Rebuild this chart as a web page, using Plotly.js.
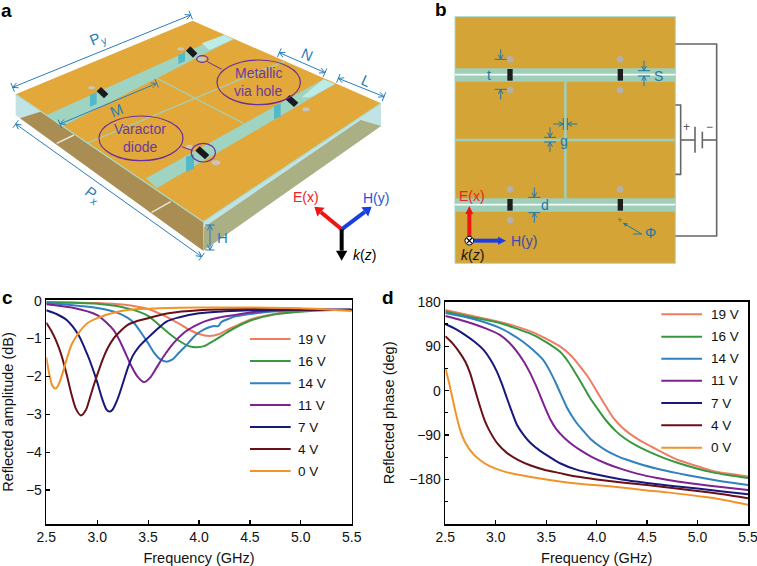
<!DOCTYPE html>
<html>
<head>
<meta charset="utf-8">
<script src="https://cdn.plot.ly/plotly-3.0.1.min.js"></script>
<style>html,body{margin:0;padding:0;background:#fff}#g{width:757px;height:566px}</style>
</head>
<body>
<div id="g"></div>
<script>
// ---- chart data ----
const names = ['19 V','16 V','14 V','11 V','7 V','4 V','0 V'];
const colors = ['#ee7d62','#36993f','#2f82bf','#7d2290','#17187c','#6a1018','#f2932a'];

const ampF19 = [2.5,3.0,3.25,3.5,3.7,3.8,3.9,4.0,4.1,4.2,4.3,4.4,4.5,4.75,5.0,5.25,5.5];
const ampV19 = [-0.03,-0.06,-0.1,-0.22,-0.45,-0.6,-0.76,-0.88,-0.93,-0.88,-0.74,-0.62,-0.5,-0.34,-0.27,-0.24,-0.24];
const ampF16 = [2.5,3.0,3.25,3.4,3.5,3.6,3.7,3.8,3.9,3.98,4.05,4.15,4.25,4.35,4.5,4.75,5.0,5.25,5.5];
const ampV16 = [-0.04,-0.08,-0.17,-0.28,-0.4,-0.62,-0.85,-1.05,-1.2,-1.23,-1.2,-1.05,-0.88,-0.72,-0.53,-0.36,-0.29,-0.25,-0.24];
const ampF14 = [2.5,3.0,3.2,3.3,3.36,3.42,3.5,3.56,3.62,3.68,3.74,3.8,3.85,3.9,3.95,4.01,4.08,4.15,4.19,4.22,4.28,4.35,4.5,4.75,5.0,5.5];
const ampV14 = [-0.06,-0.19,-0.32,-0.45,-0.58,-0.8,-1.12,-1.38,-1.55,-1.61,-1.55,-1.38,-1.25,-1.1,-0.95,-0.82,-0.72,-0.67,-0.67,-0.56,-0.49,-0.42,-0.35,-0.28,-0.25,-0.24];
const ampF11 = [2.5,2.75,3.0,3.1,3.16,3.22,3.28,3.34,3.4,3.46,3.52,3.58,3.65,3.75,3.85,3.95,4.05,4.2,4.34,4.5,4.75,5.0,5.5];
const ampV11 = [-0.09,-0.18,-0.38,-0.6,-0.77,-1.05,-1.4,-1.75,-2.02,-2.15,-2.03,-1.78,-1.48,-1.12,-0.85,-0.68,-0.55,-0.44,-0.38,-0.31,-0.26,-0.24,-0.24];
const ampF7 = [2.5,2.6,2.7,2.815,2.9,2.95,3.0,3.05,3.09,3.12,3.15,3.2,3.25,3.3,3.35,3.4,3.49,3.68,3.8,4.0,4.25,4.5,5.0,5.5];
const ampV7 = [-0.25,-0.35,-0.51,-0.9,-1.4,-1.75,-2.15,-2.6,-2.87,-2.93,-2.88,-2.6,-2.2,-1.78,-1.45,-1.25,-1.0,-0.55,-0.44,-0.33,-0.28,-0.25,-0.24,-0.24];
const ampF4 = [2.5,2.55,2.6,2.65,2.7,2.75,2.79,2.84,2.89,2.93,2.97,3.0,3.05,3.1,3.16,3.2,3.3,3.4,3.5,3.7,4.0,4.5,5.0,5.5];
const ampV4 = [-0.58,-0.8,-1.08,-1.45,-1.95,-2.5,-2.85,-3.03,-2.88,-2.55,-2.2,-1.96,-1.58,-1.27,-1.0,-0.88,-0.64,-0.53,-0.46,-0.33,-0.25,-0.22,-0.23,-0.25];
const ampF0 = [2.5,2.53,2.56,2.59,2.62,2.65,2.7,2.75,2.815,2.9,3.0,3.2,3.4,3.6,4.0,4.5,5.0,5.5];
const ampV0 = [-1.5,-1.95,-2.25,-2.32,-2.22,-2.0,-1.55,-1.15,-0.86,-0.6,-0.46,-0.29,-0.22,-0.2,-0.18,-0.18,-0.2,-0.27];

const phF19 = [2.5,2.75,3.04,3.2,3.37,3.5,3.64,3.75,3.835,3.92,4.0,4.08,4.165,4.25,4.32,4.4,4.5,4.65,4.8,5.0,5.14,5.3,5.5];
const phV19 = [163,152,139,130,118,105,89,70,49,26,-1,-28,-55,-74,-86,-97,-109,-125,-140,-153,-162,-168,-174];
const phF16 = [2.5,2.75,3.04,3.2,3.37,3.5,3.64,3.72,3.8,3.87,3.934,4.02,4.1,4.19,4.28,4.4,4.5,4.65,4.8,5.0,5.14,5.3,5.5];
const phV16 = [160,149,137,126,113,98,78,58,32,8,-15,-40,-62,-82,-97,-112,-122,-135,-146,-158,-165,-171,-177];
const phF14 = [2.5,2.78,3.04,3.15,3.27,3.37,3.47,3.53,3.587,3.64,3.7,3.75,3.8,3.87,3.934,4.0,4.1,4.2,4.3,4.45,4.6,4.8,5.0,5.25,5.5];
const phV14 = [157,145,127,115,99,82,62,42,19,-5,-32,-50,-65,-82,-97,-108,-122,-132,-140,-150,-158,-167,-175,-184,-191];
const phF11 = [2.5,2.65,2.78,2.9,3.04,3.13,3.21,3.28,3.34,3.39,3.44,3.49,3.54,3.6,3.686,3.77,3.85,3.95,4.1,4.25,4.4,4.6,4.8,5.1,5.5];
const phV11 = [151,143,135,126,113,98,79,58,36,14,-10,-35,-58,-78,-97,-111,-122,-134,-148,-159,-168,-177,-184,-192,-201];
const phF7 = [2.5,2.6,2.695,2.79,2.877,2.95,3.01,3.06,3.11,3.16,3.21,3.27,3.34,3.44,3.54,3.637,3.8,4.0,4.25,4.5,4.75,5.0,5.25,5.5];
const phV7 = [135,125,113,99,83,62,39,14,-15,-43,-69,-88,-105,-122,-135,-147,-160,-170,-180,-187,-193,-198,-204,-210];
const phF4 = [2.5,2.57,2.646,2.7,2.745,2.8,2.844,2.89,2.94,3.02,3.11,3.22,3.34,3.48,3.637,3.8,4.0,4.25,4.5,4.75,5.0,5.25,5.5];
const phV4 = [110,96,76,58,36,-2,-32,-60,-82,-108,-126,-140,-151,-160,-167,-174,-180,-186,-191,-197,-203,-210,-218];
const phF0 = [2.5,2.53,2.56,2.6,2.646,2.7,2.78,2.86,2.94,3.07,3.21,3.44,3.6,3.8,4.2,4.5,4.7,5.1,5.3,5.5];
const phV0 = [46,22,-5,-42,-79,-106,-129,-143,-153,-163,-170,-178,-183,-188,-195,-202,-206,-216,-223,-231];

const ampF = [ampF19,ampF16,ampF14,ampF11,ampF7,ampF4,ampF0];
const ampV = [ampV19,ampV16,ampV14,ampV11,ampV7,ampV4,ampV0];
const phF = [phF19,phF16,phF14,phF11,phF7,phF4,phF0];
const phV = [phV19,phV16,phV14,phV11,phV7,phV4,phV0];

const W = 757, H = 566;
const shapes = [], annotations = [];
const px = x => x / W, py = y => 1 - y / H;

// coordinate helpers: schematic sketch units are 3x page pixels
const P = (ox, pts) => 'M' + pts.map(p => px(ox + p[0]/3) + ',' + py(p[1]/3)).join('L') + 'Z';
const Po = (ox, pts) => 'M' + pts.map(p => px(ox + p[0]/3) + ',' + py(p[1]/3)).join('L');
function poly(ox, pts, fill, op) {
  shapes.push({type:'path', xref:'paper', yref:'paper', path:P(ox,pts), fillcolor:fill, opacity:op==null?1:op, line:{width:0}});
}
function stroke(ox, pts, color, w) {
  shapes.push({type:'path', xref:'paper', yref:'paper', path:Po(ox,pts), line:{color:color, width:w}});
}
function ell(ox, cx, cy, rx, ry, fill, lineColor, w) {
  shapes.push({type:'circle', xref:'paper', yref:'paper',
    x0:px(ox+(cx-rx)/3), x1:px(ox+(cx+rx)/3), y0:py((cy+ry)/3), y1:py((cy-ry)/3),
    fillcolor:fill||'rgba(0,0,0,0)', line:{color:lineColor||'rgba(0,0,0,0)', width:lineColor?w:0}});
}
function txt(x, y, text, size, color, opts) {
  annotations.push(Object.assign({xref:'paper', yref:'paper', x:px(x), y:py(y), text:text, showarrow:false,
    xanchor:'center', yanchor:'middle', font:{family:'Liberation Sans, Arial, sans-serif', size:size, color:color}}, opts||{}));
}
// dimension arrow: line with small arrow heads at both ends
function dim(ox, a, b, color, w) {
  const c = color || '#2a7db8', lw = w || 1;
  stroke(ox, [a,b], c, lw);
  const dx=b[0]-a[0], dy=b[1]-a[1], L=Math.hypot(dx,dy), ux=dx/L, uy=dy/L, nx=-uy, ny=ux, h=16, s=8;
  stroke(ox, [[a[0]+ux*h+nx*s,a[1]+uy*h+ny*s],a,[a[0]+ux*h-nx*s,a[1]+uy*h-ny*s]], c, lw);
  stroke(ox, [[b[0]-ux*h+nx*s,b[1]-uy*h+ny*s],b,[b[0]-ux*h-nx*s,b[1]-uy*h-ny*s]], c, lw);
  stroke(ox, [[a[0]+nx*14,a[1]+ny*14],[a[0]-nx*14,a[1]-ny*14]], c, lw);
  stroke(ox, [[b[0]+nx*14,b[1]+ny*14],[b[0]-nx*14,b[1]-ny*14]], c, lw);
}
function arrow(ox, a, b, color, w, hl, hw) {
  const dx=b[0]-a[0], dy=b[1]-a[1], L=Math.hypot(dx,dy), ux=dx/L, uy=dy/L, nx=-uy, ny=ux;
  const m=[b[0]-ux*hl,b[1]-uy*hl];
  stroke(ox,[a,m],color,w);
  poly(ox,[b,[m[0]+nx*hw,m[1]+ny*hw],[m[0]-nx*hw,m[1]-ny*hw]],color);
}

// ---- panel a ----
const A = 0;
const blueGlass = '#c2e3e6', gold = '#e2a93a', teal='#9fd3c2', via='#52b9c9', cyan='#bdebe6', blueDim='#2a7db8', purple='#6b2f9a';
poly(A,[[47,283],[610,665],[610,752],[47,345]],blueGlass);
poly(A,[[610,665],[1143,310],[1143,378],[610,752]],blueGlass);
poly(A,[[60,355],[130,332],[610,665],[610,752]],'#a98d52');
poly(A,[[612,682],[1082,360],[1143,378],[610,752]],'#aaaf84');
stroke(A,[[170,430],[222,405]],'#e9e6da',1.4);
stroke(A,[[455,637],[512,605]],'#e9e6da',1.4);
poly(A,[[47,283],[578,62],[1143,310],[610,665]],gold);
// slots
poly(A,[[140,345],[672,105],[700,118],[185,380]],teal);
poly(A,[[438,535],[970,238],[1005,252],[470,565]],teal);
poly(A,[[605,130],[672,105],[700,118],[628,150]],cyan);
poly(A,[[905,292],[970,238],[1005,252],[932,292]],cyan);
// patch gaps
stroke(A,[[263,429],[854,183]],teal,1.2);
stroke(A,[[465,232],[730,370]],teal,1.2);
stroke(A,[[47,283],[610,665],[1143,310]],'#a9dcc9',1.2);
// via holes
[[270,285,290,320],[535,165,555,192],[822,318,842,358],[558,470,582,515]].forEach(r=>{
  poly(A,[[r[0],r[1]],[r[2],r[1]-8],[r[2],r[3]-8],[r[0],r[3]]],via);
});
// pads
[[275,263,10,5],[542,147,10,5],[648,488,13,7],[918,328,11,6],[605,177,12,7],[568,440,11,6]].forEach(e=>ell(A,e[0],e[1],e[2],e[3],'#c9c5bd'));
// diodes
[[290,274,325,282],[558,152,592,160],[856,298,895,308],[586,452,628,465]].forEach(d=>{
  poly(A,[[d[0],d[1]],[d[0]+13,d[1]-13],[d[2],d[3]],[d[2]-13,d[3]+13]],'#1a1a1a');
});
// purple callouts
ell(A,776,247,125,67,null,purple,1.2);
ell(A,423,415,126,67,null,purple,1.2);
ell(A,607,177,17,10,null,purple,1.2);
ell(A,610,458,36,28,null,purple,1.2);
stroke(A,[[622,185],[665,208]],purple,1);
stroke(A,[[545,440],[578,452]],purple,1);
txt(775/3,218/3,'Metallic',14,'#6c3a9c');
txt(775/3,272/3,'via hole',14,'#6c3a9c');
txt(421/3,388/3,'Varactor',14,'#6c3a9c');
txt(421/3,441/3,'diode',14,'#6c3a9c');
// dimensions
dim(A,[38,262],[572,45]);
dim(A,[47,372],[605,770]);
dim(A,[180,372],[470,250]);
dim(A,[838,158],[975,218]);
dim(A,[1015,235],[1152,290]);
dim(A,[630,675],[630,750]);
txt(295/3,115/3,'P<sub>y</sub>',15,blueDim,{textangle:-22});
txt(280/3,585/3,'P<sub>x</sub>',15,blueDim,{textangle:38});
txt(348/3,330/3,'M',15,blueDim,{textangle:-22});
txt(922/3,162/3,'N',15,blueDim,{textangle:24});
txt(1097/3,240/3,'L',15,blueDim,{textangle:24});
txt(668/3,712/3,'H',15,blueDim);
// field axes
arrow(A,[1025,688],[943,620],'#f01414',4,26,17);
arrow(A,[1025,688],[1115,620],'#1a3fe0',4,26,17);
arrow(A,[1025,688],[1025,782],'#000000',4,30,17);
txt(917/3,592/3,'E(x)',14,'#e8232a');
txt(1127/3,593/3,'H(y)',14,'#2b50d8');
txt(1093/3,765/3,'<i>k</i>(<i>z</i>)',14,'#000');

// ---- panel b ----
const B = 430;
const goldB = '#d4a436', tealB='#9fceb9', dimB='#2377a8';
poly(B,[[75,50],[736,50],[736,790],[75,790]],goldB);
stroke(B,[[75,50],[736,50],[736,790],[75,790],[75,50]],'#a9d8cc',1);
poly(B,[[75,205],[736,205],[736,245],[75,245]],tealB);
poly(B,[[75,595],[736,595],[736,635],[75,635]],tealB);
stroke(B,[[75,224],[736,224]],'#f3fbf6',1.6);
stroke(B,[[75,614],[736,614]],'#f3fbf6',1.6);
stroke(B,[[406,245],[406,595]],tealB,2.6);
stroke(B,[[75,420],[736,420]],tealB,2.6);
[[240,178],[240,270],[570,178],[570,270],[240,568],[240,660],[570,568]].forEach(d=>ell(B,d[0],d[1],10,10,'#b3b1ab'));
[[232,207],[563,207],[232,597],[563,597]].forEach(d=>poly(B,[[d[0],d[1]],[d[0]+16,d[1]],[d[0]+16,d[1]+35],[d[0],d[1]+35]],'#1c1c1c'));
// circuit
stroke(B,[[736,132],[860,132],[860,708],[736,708]],'#666',1.6);
stroke(B,[[736,315],[752,315],[752,523],[736,523]],'#666',1.6);
stroke(B,[[752,420],[795,420]],'#666',1.6);
stroke(B,[[795,380],[795,458]],'#666',1.6);
stroke(B,[[817,395],[817,445]],'#666',1.6);
stroke(B,[[817,420],[860,420]],'#666',1.6);
txt(B+770/3,380/3,'+',12,'#555');
txt(B+838/3,380/3,'\u2212',12,'#555');
// dimension marks in panel b
function dimIn(a, dirx, diry) { // tick + inward arrow
  const h=[a[0]-dirx*30,a[1]-diry*30];
  stroke(B,[a,h],dimB,1);
  stroke(B,[[a[0]-dirx*14-diry*7,a[1]-diry*14-dirx*7],a,[a[0]-dirx*14+diry*7,a[1]-diry*14+dirx*7]],dimB,1);
  stroke(B,[[a[0]-diry*18,a[1]-dirx*18],[a[0]+diry*18,a[1]+dirx*18]],dimB,1);
}
dimIn([212,178],0,1); dimIn([212,268],0,-1);
dimIn([642,212],0,1); dimIn([642,228],0,-1);
dimIn([400,372],1,0); dimIn([412,372],-1,0);
dimIn([360,412],0,1); dimIn([360,426],0,-1);
dimIn([313,592],0,1); dimIn([313,638],0,-1);
txt(B+177/3,225/3,'t',14,dimB);
txt(B+684/3,228/3,'S',14,dimB);
txt(B+403/3,422/3,'g',14,dimB);
txt(B+345/3,614/3,'d',14,dimB);
txt(B+660/3,700/3,'\u03a6',14,dimB);
txt(B+569/3,660/3,'+',9,dimB);
arrow(B,[635,702],[578,668],dimB,1,14,6);
stroke(B,[[635,702],[610,702]],dimB,1);
arrow(B,[118,715],[118,618],'#f01414',4,24,12);
arrow(B,[118,722],[228,722],'#1a3fe0',4,24,12);
ell(B,118,722,13,13,'#fff','#000',1);
stroke(B,[[110,714],[126,730]],'#000',1.2);
stroke(B,[[110,730],[126,714]],'#000',1.2);
txt(B+127/3,588/3,'E(x)',14,'#e8232a');
txt(B+282/3,723/3,'H(y)',14,'#3a4aa8');
txt(B+127/3,765/3,'<i>k</i>(<i>z</i>)',14,'#111');

// panel letters
txt(6,10,'<b>a</b>',19,'#000');
txt(441,9,'<b>b</b>',19,'#000');
txt(7,297,'<b>c</b>',19,'#000');
txt(388,297,'<b>d</b>',19,'#000');

// ---- legends of panels c and d ----
const legC = [339,361,383.3,405,427,449,471], legD = [314.3,336.7,358.7,380.7,403,425.3,447.7];
names.forEach((n,i)=>{
  shapes.push({type:'line',xref:'paper',yref:'paper',x0:px(250),x1:px(290.7),y0:py(legC[i]),y1:py(legC[i]),line:{color:colors[i],width:2}});
  txt(296.3,legC[i],n,13.5,'#111',{xanchor:'left'});
  shapes.push({type:'line',xref:'paper',yref:'paper',x0:px(661.3),x1:px(702),y0:py(legD[i]),y1:py(legD[i]),line:{color:colors[i],width:2}});
  txt(708.7,legD[i],n,13.5,'#111',{xanchor:'left'});
});

// ---- traces ----
const traces = [];
names.forEach((n,i)=>{
  traces.push({x:ampF[i],y:ampV[i],xaxis:'x',yaxis:'y',type:'scatter',mode:'lines',name:n,showlegend:false,
    line:{color:colors[i],width:2,shape:'spline',smoothing:0.7}});
  traces.push({x:phF[i],y:phV[i],xaxis:'x2',yaxis:'y2',type:'scatter',mode:'lines',name:n,showlegend:false,
    line:{color:colors[i],width:2,shape:'spline',smoothing:0.7}});
});

const font = {family:'Liberation Sans, Arial, sans-serif', size:14, color:'#111'};
const titleFont = {family:'Liberation Sans, Arial, sans-serif', size:14.5, color:'#111'};
const axisBase = {showgrid:false, zeroline:false, showline:true, linecolor:'#000', linewidth:1.6, mirror:true,
  ticks:'inside', ticklen:4, tickwidth:1.2, tickcolor:'#000', tickfont:font, ticklabeloverflow:'allow'};
const xTick = [2.5,3,3.5,4,4.5,5,5.5], xTickText = ['2.5','3.0','3.5','4.0','4.5','5.0','5.5'];

const layout = {
  width:W, height:H, margin:{l:0,r:0,t:0,b:0}, paper_bgcolor:'#fff', plot_bgcolor:'rgba(0,0,0,0)', showlegend:false,
  font:font,
  xaxis:Object.assign({},axisBase,{domain:[46.3/W,351.7/W],anchor:'y',range:[2.5,5.5],tickvals:xTick,ticktext:xTickText,
    title:{text:'Frequency (GHz)',font:titleFont,standoff:9}}),
  yaxis:Object.assign({},axisBase,{domain:[1-524/H,1-300/H],anchor:'x',range:[-5.9,0.02],tickvals:[0,-1,-2,-3,-4,-5],
    title:{text:'Reflected amplitude (dB)',font:titleFont,standoff:10.5}}),
  xaxis2:Object.assign({},axisBase,{domain:[445.3/W,748/W],anchor:'y2',range:[2.5,5.5],tickvals:xTick,ticktext:xTickText,
    title:{text:'Frequency (GHz)',font:titleFont,standoff:9}}),
  yaxis2:Object.assign({},axisBase,{domain:[1-524/H,1-301.7/H],anchor:'x2',range:[-270,180],tickvals:[180,90,0,-90,-180],
    minor:{tickvals:[135,45,-45,-135,-225],ticks:'inside',ticklen:2.5,tickwidth:1.2,tickcolor:'#000'},
    title:{text:'Reflected phase (deg)',font:titleFont,standoff:11}}),
  shapes:shapes, annotations:annotations
};
Plotly.newPlot('g',traces,layout,{displayModeBar:false,staticPlot:true});
</script>
</body>
</html>
